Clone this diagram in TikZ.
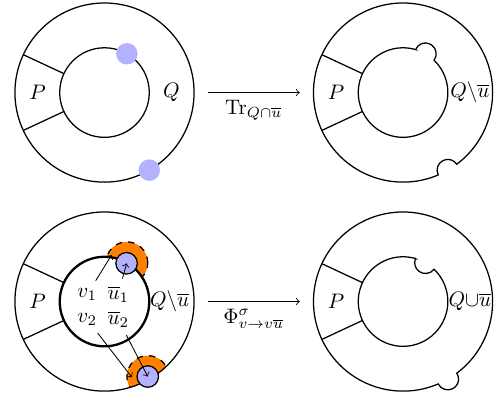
\documentclass[tikz,border=0pt]{standalone}
\usepackage{amsmath, amssymb}

\begin{document}
\begin{tikzpicture}[semithick,
  blob/.style={fill=blue!30},
  bdisc/.style={circle, fill=blue!30, draw=black, minimum size=0.36cm, inner sep=0pt},
  ring/.style={fill=orange, draw=black, dashed},
  thinarrow/.style={->, thin}]
\useasboundingbox (-1.75,-5.05) rectangle (6.54,1.55);

% before the trace
\draw (0,0) circle (1.5);
\draw (0,0) circle (0.75);
\foreach \a in {155,205} {
    \draw (\a:0.75) -- (\a:1.5);
}
\fill[blob] (60:0.75) circle (0.18);
\fill[blob] (-60:1.5) circle (0.18);
\node (pa) at (-1.12,0) {$P$};
\node (qa) at (1.12,0) {$Q$};

\coordinate (tra) at (1.73,0);
\coordinate (trb) at (3.27,0);
\draw[thinarrow] (tra) -- node[below]{$\mathrm{Tr}_{Q\cap\overline{u}}$} (trb);

% after the trace
\begin{scope}[shift={(5,0)}]
\draw (-53.12:1.5) arc[start angle=-53.12, end angle=293.12, radius=1.5]
    arc[start angle=206.56, end angle=33.44, radius=0.18] -- cycle;
\draw (73.78:0.75) arc[start angle=73.78, end angle=406.22, radius=0.75]
    arc[start angle=323.11, end angle=516.89, radius=0.18] -- cycle;
\foreach \a in {155,205} {
    \draw (\a:0.75) -- (\a:1.5);
}
\node (pb) at (-1.12,0) {$P$};
\node (qb) at (1.12,0) {$Q\backslash\overline{u}$};
\end{scope}

% before the flip
\begin{scope}[shift={(0,-3.5)}]
\begin{scope}
\clip (0,0) circle (1.5);
\filldraw[ring] (-60:1.45) circle (0.35);
\end{scope}
\filldraw[ring] (60:0.75) circle (0.35);
\fill[white] (0,0) circle (0.75);
\draw (0,0) circle (1.5);
\draw[line width=1.1pt] (0,0) circle (0.75);
\foreach \a in {155,205} {
    \draw (\a:0.75) -- (\a:1.5);
}
\node[bdisc] (ba) at (60:0.74) {};
\node[bdisc] (bb) at (-60:1.45) {};
\coordinate (oa) at (0.12,0.78);
\coordinate (ob) at (0.46,-1.27);
\node (pc) at (-1.12,0) {$P$};
\node (qc) at (1.09,0) {$Q\backslash\overline{u}$};
\node (va) at (-0.29,0.12) {$v_1$};
\node (ua) at (0.23,0.12) {$\overline{u}_1$};
\node (vb) at (-0.29,-0.3) {$v_2$};
\node (ub) at (0.23,-0.3) {$\overline{u}_2$};
\draw[thinarrow] (va) -- (oa);
\draw[thinarrow] (ua) -- (ba.center);
\draw[thinarrow] (vb) -- (ob);
\draw[thinarrow] (ub) -- (bb.center);
\end{scope}

\coordinate (fla) at (1.73,-3.5);
\coordinate (flb) at (3.27,-3.5);
\draw[thinarrow] (fla) -- node[below]{$\Phi^{\sigma}_{v\to v\overline{u}}$} (flb);

% after the flip
\begin{scope}[shift={(5,-3.5)}]
\draw (-53.12:1.5) arc[start angle=-53.12, end angle=293.12, radius=1.5]
    arc[start angle=206.56, end angle=393.44, radius=0.18] -- cycle;
\draw (73.78:0.75) arc[start angle=73.78, end angle=406.22, radius=0.75]
    arc[start angle=323.11, end angle=156.89, radius=0.18] -- cycle;
\foreach \a in {155,205} {
    \draw (\a:0.75) -- (\a:1.5);
}
\node (pd) at (-1.12,0) {$P$};
\node (qd) at (1.12,0) {$Q{\cup}\overline{u}$};
\end{scope}
\end{tikzpicture}
\end{document}
